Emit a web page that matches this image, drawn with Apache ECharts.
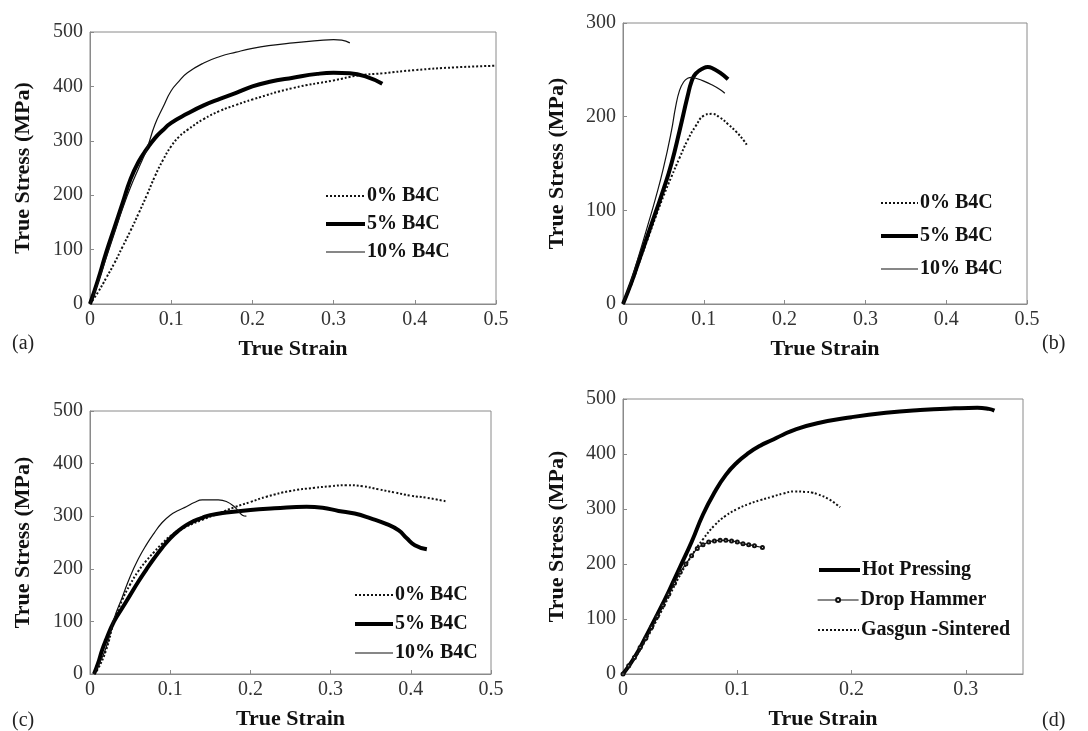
<!DOCTYPE html>
<html>
<head>
<meta charset="utf-8">
<script src="https://cdn.jsdelivr.net/npm/echarts@6/dist/echarts.min.js"></script>
<style>
  html, body { margin: 0; padding: 0; background: #fff; }
  #main { width: 1088px; height: 731px; }
</style>
</head>
<body>
<div id="main"></div>
<script>
// (a) hot pressing
const a0 = [[0,0],[0.01,22],[0.02,48],[0.03,75],[0.04,105],[0.05,135],[0.06,167],[0.07,200],[0.08,235],[0.09,265],[0.1,290],[0.11,308],[0.12,320],[0.14,340],[0.16,355],[0.18,366],[0.2,376],[0.25,397],[0.3,411],[0.33,420],[0.36,424],[0.4,430],[0.45,435],[0.5,438]]
const a5 = [[0,0],[0.01,45],[0.02,95],[0.03,140],[0.04,185],[0.05,230],[0.06,262],[0.07,285],[0.08,305],[0.09,320],[0.1,333],[0.12,350],[0.14,365],[0.16,377],[0.18,388],[0.2,400],[0.22,408],[0.25,416],[0.28,423],[0.3,425],[0.32,424],[0.34,418],[0.36,405]]
const a10 = [[0,0],[0.01,40],[0.02,85],[0.03,130],[0.04,175],[0.05,215],[0.06,250],[0.07,285],[0.08,330],[0.09,362],[0.1,392],[0.11,410],[0.12,425],[0.14,443],[0.16,455],[0.18,463],[0.2,470],[0.22,475],[0.25,480],[0.28,484],[0.3,486],[0.31,485],[0.32,480]]

// (b) drop hammer
const b0 = [[0,0],[0.01,20],[0.02,44],[0.03,68],[0.04,92],[0.05,115],[0.06,136],[0.07,156],[0.08,175],[0.09,190],[0.1,201],[0.11,203],[0.12,199],[0.13,192],[0.14,184],[0.15,174],[0.153,170]]
const b5 = [[0,0],[0.01,22],[0.02,47],[0.03,72],[0.04,97],[0.05,122],[0.06,150],[0.07,185],[0.08,222],[0.085,238],[0.09,246],[0.1,252],[0.105,253],[0.11,252],[0.12,247],[0.13,240]]
const b10 = [[0,0],[0.01,25],[0.02,53],[0.03,82],[0.04,112],[0.05,145],[0.06,185],[0.065,210],[0.07,228],[0.075,237],[0.08,241],[0.085,242],[0.09,241],[0.1,238],[0.11,234],[0.12,229],[0.126,225]]

// (c) gas gun
const c0 = [[0.005,0],[0.01,10],[0.02,45],[0.03,100],[0.04,140],[0.05,170],[0.06,195],[0.07,215],[0.08,232],[0.09,248],[0.1,262],[0.12,280],[0.14,293],[0.16,305],[0.18,317],[0.2,327],[0.22,337],[0.25,348],[0.28,354],[0.3,357],[0.32,359],[0.34,357],[0.36,351],[0.38,345],[0.4,339],[0.42,335],[0.445,328]]
const c5 = [[0.005,0],[0.01,20],[0.015,45],[0.02,65],[0.03,100],[0.04,125],[0.05,150],[0.06,175],[0.07,198],[0.08,220],[0.09,240],[0.1,258],[0.11,272],[0.12,283],[0.13,291],[0.14,297],[0.15,302],[0.17,307],[0.2,312],[0.23,315],[0.27,318],[0.29,316],[0.31,310],[0.33,305],[0.35,296],[0.37,285],[0.385,273],[0.395,258],[0.405,245],[0.42,237]]
const c10 = [[0.005,0],[0.01,15],[0.02,50],[0.03,105],[0.04,145],[0.05,185],[0.06,218],[0.07,245],[0.08,268],[0.09,288],[0.1,302],[0.11,311],[0.12,318],[0.13,326],[0.14,331],[0.15,331],[0.16,331],[0.17,328],[0.18,318],[0.19,302],[0.195,300]]

// (d) process comparison, 10% B4C
const dHot = [[0,0],[0.01,30],[0.02,68],[0.03,108],[0.04,150],[0.05,195],[0.06,240],[0.07,290],[0.08,330],[0.09,362],[0.1,385],[0.11,402],[0.12,415],[0.13,425],[0.14,435],[0.15,444],[0.17,456],[0.2,467],[0.23,475],[0.26,480],[0.29,483],[0.31,484],[0.32,482],[0.325,479]]
const dDrop = [[0,0],[0.005,15],[0.01,30],[0.015,48],[0.02,65],[0.025,85],[0.03,105],[0.035,125],[0.04,145],[0.045,165],[0.05,185],[0.055,200],[0.06,215],[0.065,228],[0.07,235],[0.075,240],[0.08,242],[0.085,243],[0.09,243],[0.095,242],[0.1,240],[0.105,237],[0.11,235],[0.115,233],[0.122,230]]
const dGas = [[0,0],[0.01,28],[0.02,62],[0.03,100],[0.04,140],[0.05,180],[0.06,215],[0.07,245],[0.08,270],[0.09,288],[0.1,300],[0.11,309],[0.12,316],[0.13,322],[0.14,328],[0.15,332],[0.16,331],[0.165,330],[0.17,327],[0.18,318],[0.19,303]]

const namesB4C = ['0% B4C', '5% B4C', '10% B4C']
const namesProc = ['Hot Pressing', 'Drop Hammer', 'Gasgun -Sintered']
const panelLabels = ['(a)', '(b)', '(c)', '(d)']

const FONT = "'Liberation Serif', 'DejaVu Serif', serif"
const GRAY = '#8a8a8a'

let myChart = echarts.init(document.getElementById('main'))

const grids = [
  { left: 90, top: 32, width: 406, height: 272 },
  { left: 623, top: 23, width: 404, height: 281 },
  { left: 90, top: 411, width: 401, height: 265 },
  { left: 623, top: 399, width: 400, height: 277 }
]

function xAx (i, max) {
  return {
    gridIndex: i,
    type: 'value',
    min: 0,
    max: max,
    interval: 0.1,
    name: 'True Strain',
    nameLocation: 'middle',
    nameGap: 34,
    nameTextStyle: { fontFamily: FONT, fontWeight: 'bold', fontSize: 22, color: '#111' },
    axisLine: { lineStyle: { color: GRAY } },
    axisTick: { inside: true, length: 4, lineStyle: { color: GRAY } },
    axisLabel: { fontFamily: FONT, fontSize: 20, color: '#333', margin: 6, showMaxLabel: max === 0.5 },
    splitLine: { show: false }
  }
}

function yAx (i, max, gap) {
  return {
    gridIndex: i,
    type: 'value',
    min: 0,
    max: max,
    interval: 100,
    name: 'True Stress (MPa)',
    nameLocation: 'middle',
    nameGap: gap,
    nameTextStyle: { fontFamily: FONT, fontWeight: 'bold', fontSize: 22, color: '#111' },
    axisLine: { lineStyle: { color: GRAY } },
    axisTick: { inside: true, length: 4, lineStyle: { color: GRAY } },
    axisLabel: { fontFamily: FONT, fontSize: 20, color: '#333', margin: 7 },
    splitLine: { show: false }
  }
}

const dotted = { color: '#111', width: 2, type: [2, 2] }
const thick = { color: '#000', width: 4 }
const thin = { color: '#111', width: 1.2 }

function line (name, data, i, style, extra) {
  return Object.assign({
    name: name,
    type: 'line',
    xAxisIndex: i,
    yAxisIndex: i,
    data: data,
    symbol: 'none',
    smooth: true,
    lineStyle: style,
    itemStyle: { color: style.color },
    silent: true
  }, extra || {})
}

// 图例：只画线，不画符号
function leg (names, styles, left, top, w, gap, h, showSym) {
  return {
    data: names.map((n, k) => ({ name: n, lineStyle: styles[k] })),
    orient: 'vertical',
    left: left,
    top: top,
    itemWidth: w,
    itemHeight: h || 14,
    itemGap: gap,
    itemStyle: showSym ? { color: '#111', borderColor: '#111' } : { opacity: 0 },
    textStyle: { fontFamily: FONT, fontWeight: 'bold', fontSize: 20, color: '#111', padding: [0, 0, 0, -3] }
  }
}

const b4cStyles = [dotted, thick, thin]
const labelPos = [[12, 334], [1042, 334], [12, 711], [1042, 711]]

let option = {
  animation: false,
  backgroundColor: '#fff',
  grid: grids.map(g => Object.assign({ show: true, borderColor: GRAY, borderWidth: 1, backgroundColor: 'transparent' }, g)),
  xAxis: [xAx(0, 0.5), xAx(1, 0.5), xAx(2, 0.5), xAx(3, 0.35)],
  yAxis: [yAx(0, 500, 56), yAx(1, 300, 55), yAx(2, 500, 56), yAx(3, 500, 55)],
  legend: [
    leg(namesB4C, b4cStyles, 319, 181, 39, 8),
    leg(namesB4C, b4cStyles, 874, 188, 37, 13),
    leg(namesB4C, b4cStyles, 348, 580, 38, 9),
    leg([namesProc[0]], [thick], 812, 555, 41, 0),
    leg([namesProc[1]], [thin], 812, 585, 41, 0, 5, true),
    leg([namesProc[2]], [dotted], 812, 615, 41, 0)
  ],
  graphic: panelLabels.map((t, k) => ({
    type: 'text',
    left: labelPos[k][0],
    top: labelPos[k][1],
    style: { text: t, font: '20px ' + FONT, fill: '#222' }
  })),
  series: [
    line(namesB4C[0], a0, 0, dotted),
    line(namesB4C[1], a5, 0, thick),
    line(namesB4C[2], a10, 0, thin),
    line(namesB4C[0], b0, 1, dotted),
    line(namesB4C[1], b5, 1, thick),
    line(namesB4C[2], b10, 1, thin),
    line(namesB4C[0], c0, 2, dotted),
    line(namesB4C[1], c5, 2, thick),
    line(namesB4C[2], c10, 2, thin),
    line(namesProc[0], dHot, 3, thick),
    line(namesProc[1], dDrop, 3, thin, { symbol: 'emptyCircle', symbolSize: 3, showSymbol: true }),
    line(namesProc[2], dGas, 3, dotted)
  ]
}

myChart.setOption(option, true)
</script>
</body>
</html>
